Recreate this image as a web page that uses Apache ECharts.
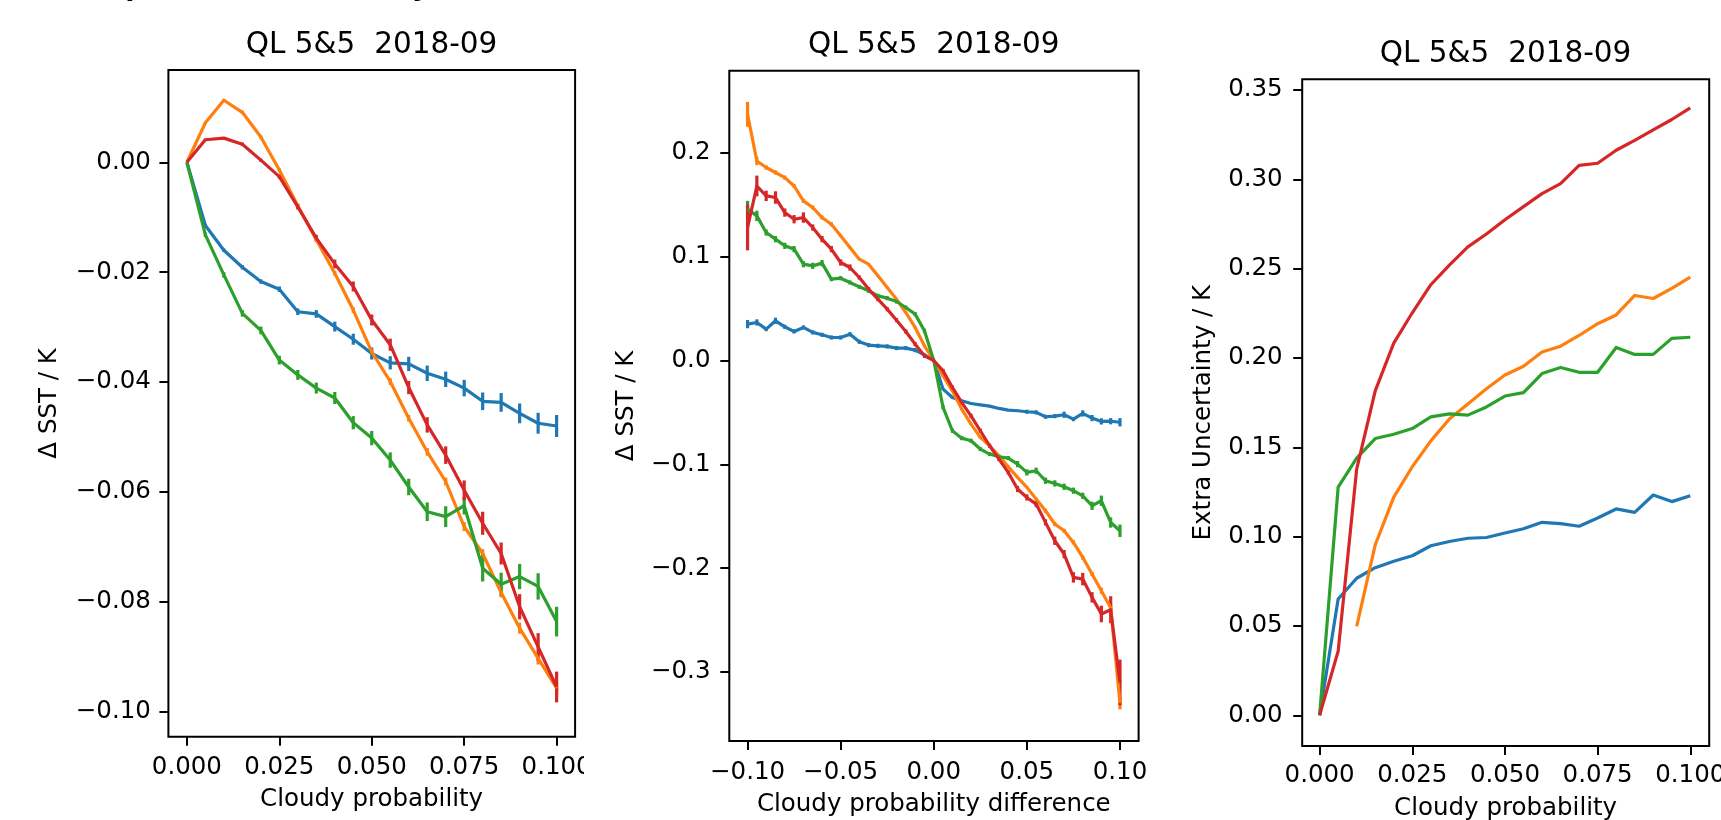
<!DOCTYPE html>
<html>
<head>
<meta charset="utf-8">
<script src="https://cdn.jsdelivr.net/npm/echarts@6/dist/echarts.min.js"></script>
<style>
html,body{margin:0;padding:0;background:#fff;}
#chart{width:1721px;height:820px;}
</style>
</head>
<body>
<div id="chart"></div>
<script>
// ---------------- data ----------------
const titleText = 'QL 5&5  2018-09';
const supTitle = 'SST dependence on cloudy';
const colors = ['#1f77b4', '#ff7f0e', '#2ca02c', '#d62728'];

// Panel 1: ΔSST vs cloudy probability
const p1X = [0, 0.005, 0.01, 0.015, 0.02, 0.025, 0.03, 0.035, 0.04, 0.045, 0.05, 0.055, 0.06, 0.065, 0.07, 0.075, 0.08, 0.085, 0.09, 0.095, 0.1];
const p1Blue = [0, -0.0115, -0.0160, -0.0191, -0.0217, -0.0231, -0.0272, -0.0276, -0.0299, -0.0322, -0.0348, -0.0365, -0.0367, -0.0384, -0.0395, -0.0411, -0.0435, -0.0437, -0.0457, -0.0475, -0.0480];
const p1BlueErr = [0, 0.0003, 0.0003, 0.0004, 0.0004, 0.0005, 0.0006, 0.0007, 0.0009, 0.0010, 0.0011, 0.0012, 0.0013, 0.0014, 0.0014, 0.0015, 0.0016, 0.0017, 0.0018, 0.0019, 0.0020];
const p1Orange = [0, 0.0072, 0.0113, 0.0091, 0.0046, -0.0014, -0.0079, -0.0141, -0.0202, -0.0269, -0.0345, -0.0399, -0.0466, -0.0527, -0.0581, -0.0663, -0.0712, -0.0783, -0.0848, -0.0903, -0.0957];
const p1OrangeErr = [0, 0.0002, 0.0002, 0.0003, 0.0003, 0.0003, 0.0004, 0.0004, 0.0004, 0.0005, 0.0005, 0.0006, 0.0006, 0.0007, 0.0007, 0.0008, 0.0008, 0.0009, 0.0010, 0.0011, 0.0012];
const p1Green = [0, -0.0132, -0.0205, -0.0275, -0.0306, -0.0360, -0.0387, -0.0411, -0.0429, -0.0474, -0.0502, -0.0542, -0.0591, -0.0636, -0.0645, -0.0625, -0.0739, -0.0768, -0.0754, -0.0772, -0.0836];
const p1GreenErr = [0, 0.0004, 0.0005, 0.0006, 0.0007, 0.0008, 0.0009, 0.0010, 0.0011, 0.0012, 0.0013, 0.0014, 0.0015, 0.0017, 0.0019, 0.0016, 0.0024, 0.0021, 0.0023, 0.0024, 0.0027];
const p1Red = [0, 0.0041, 0.0044, 0.0033, 0.0004, -0.0026, -0.0081, -0.0138, -0.0185, -0.0226, -0.0287, -0.0332, -0.0410, -0.0478, -0.0533, -0.0597, -0.0657, -0.0712, -0.0809, -0.0882, -0.0955];
const p1RedErr = [0, 0.0002, 0.0002, 0.0003, 0.0003, 0.0004, 0.0005, 0.0006, 0.0008, 0.0009, 0.0010, 0.0011, 0.0012, 0.0014, 0.0016, 0.0018, 0.0021, 0.0020, 0.0023, 0.0025, 0.0028];

// Panel 2: ΔSST vs cloudy probability difference
const p2X = [-0.1, -0.095, -0.09, -0.085, -0.08, -0.075, -0.07, -0.065, -0.06, -0.055, -0.05, -0.045, -0.04, -0.035, -0.03, -0.025, -0.02, -0.015, -0.01, -0.005, 0,
             0.005, 0.01, 0.015, 0.02, 0.025, 0.03, 0.035, 0.04, 0.045, 0.05, 0.055, 0.06, 0.065, 0.07, 0.075, 0.08, 0.085, 0.09, 0.095, 0.1];
const p2Blue = [0.0350, 0.0366, 0.0302, 0.0382, 0.0324, 0.0279, 0.0318, 0.0270, 0.0247, 0.0221, 0.0221, 0.0253, 0.0180, 0.0148, 0.0141, 0.0135, 0.0119, 0.0119, 0.0099, 0.0055, 0.0000,
                -0.0276, -0.0356, -0.0388, -0.0414, -0.0427, -0.0440, -0.0462, -0.0478, -0.0484, -0.0494, -0.0500, -0.0542, -0.0536, -0.0523, -0.0565, -0.0510, -0.0555, -0.0587, -0.0585, -0.0595];
const p2BlueErr = [0.004, 0.003, 0.002, 0.003, 0.002, 0.002, 0.002, 0.002, 0.002, 0.002, 0.002, 0.002, 0.002, 0.002, 0.002, 0.002, 0.002, 0.002, 0.002, 0.001, 0,
                   0.001, 0.001, 0.001, 0.001, 0.001, 0.001, 0.001, 0.001, 0.001, 0.002, 0.002, 0.002, 0.002, 0.003, 0.002, 0.003, 0.003, 0.003, 0.003, 0.004];
const p2Orange = [0.2370, 0.1920, 0.1858, 0.1810, 0.1761, 0.1680, 0.1537, 0.1473, 0.1376, 0.1312, 0.1200, 0.1088, 0.0975, 0.0927, 0.0815, 0.0703, 0.0590, 0.0462, 0.0318, 0.0141, 0.0000,
                  -0.0148, -0.0292, -0.0468, -0.0613, -0.0741, -0.0821, -0.0918, -0.1023, -0.1126, -0.1222, -0.1335, -0.1447, -0.1575, -0.1640, -0.1752, -0.1896, -0.2056, -0.2217, -0.2380, -0.3300];
const p2OrangeErr = [0.012, 0.004, 0.002, 0.002, 0.002, 0.002, 0.002, 0.002, 0.002, 0.002, 0.001, 0.001, 0.001, 0.001, 0.001, 0.001, 0.001, 0.001, 0.001, 0.001, 0,
                     0.001, 0.001, 0.001, 0.001, 0.001, 0.001, 0.001, 0.001, 0.001, 0.001, 0.001, 0.002, 0.002, 0.002, 0.002, 0.002, 0.002, 0.003, 0.004, 0.006];
const p2Green = [0.1457, 0.1392, 0.1232, 0.1168, 0.1104, 0.1072, 0.0927, 0.0911, 0.0937, 0.0783, 0.0792, 0.0751, 0.0709, 0.0671, 0.0622, 0.0600, 0.0568, 0.0510, 0.0446, 0.0286, 0.0000,
                 -0.0452, -0.0677, -0.0748, -0.0773, -0.0853, -0.0901, -0.0927, -0.0940, -0.0998, -0.1078, -0.1062, -0.1158, -0.1184, -0.1216, -0.1254, -0.1303, -0.1399, -0.1351, -0.1560, -0.1640];
const p2GreenErr = [0.008, 0.005, 0.003, 0.003, 0.003, 0.003, 0.003, 0.003, 0.003, 0.002, 0.002, 0.002, 0.002, 0.002, 0.002, 0.002, 0.002, 0.002, 0.002, 0.002, 0,
                    0.002, 0.002, 0.002, 0.002, 0.002, 0.002, 0.002, 0.002, 0.003, 0.003, 0.003, 0.003, 0.003, 0.003, 0.003, 0.003, 0.004, 0.005, 0.005, 0.006];
const p2Red = [0.1280, 0.1680, 0.1585, 0.1569, 0.1424, 0.1360, 0.1376, 0.1280, 0.1168, 0.1072, 0.0943, 0.0895, 0.0799, 0.0687, 0.0590, 0.0494, 0.0388, 0.0279, 0.0157, 0.0045, 0.0000,
               -0.0100, -0.0260, -0.0404, -0.0533, -0.0677, -0.0821, -0.0950, -0.1078, -0.1238, -0.1319, -0.1383, -0.1559, -0.1736, -0.1864, -0.2089, -0.2105, -0.2281, -0.2441, -0.2400, -0.3100];
const p2RedErr = [0.022, 0.010, 0.005, 0.006, 0.004, 0.004, 0.005, 0.003, 0.003, 0.003, 0.003, 0.003, 0.002, 0.002, 0.002, 0.002, 0.002, 0.002, 0.002, 0.002, 0,
                  0.002, 0.002, 0.002, 0.002, 0.002, 0.002, 0.002, 0.002, 0.003, 0.003, 0.003, 0.003, 0.004, 0.004, 0.005, 0.006, 0.005, 0.008, 0.013, 0.022];

// Panel 3: extra uncertainty vs cloudy probability
const p3X = [0, 0.005, 0.01, 0.015, 0.02, 0.025, 0.03, 0.035, 0.04, 0.045, 0.05, 0.055, 0.06, 0.065, 0.07, 0.075, 0.08, 0.085, 0.09, 0.095, 0.1];
const p3Blue = [0, 0.0651, 0.0767, 0.0826, 0.0862, 0.0893, 0.0949, 0.0973, 0.0991, 0.0995, 0.1020, 0.1044, 0.1080, 0.1073, 0.1058, 0.1104, 0.1155, 0.1136, 0.1233, 0.1196, 0.1229];
const p3Orange = [null, null, 0.0498, 0.0954, 0.1221, 0.1391, 0.1536, 0.1658, 0.1743, 0.1828, 0.1905, 0.1954, 0.2034, 0.2066, 0.2126, 0.2192, 0.2241, 0.2350, 0.2333, 0.2390, 0.2452];
const p3Green = [0, 0.1277, 0.1440, 0.1549, 0.1573, 0.1605, 0.1670, 0.1687, 0.1680, 0.1726, 0.1787, 0.1806, 0.1913, 0.1947, 0.1920, 0.1920, 0.2059, 0.2020, 0.2020, 0.2110, 0.2116];
const p3Red = [0, 0.0359, 0.1378, 0.1816, 0.2083, 0.2253, 0.2410, 0.2520, 0.2622, 0.2694, 0.2774, 0.2847, 0.2920, 0.2976, 0.3078, 0.3090, 0.3163, 0.3218, 0.3277, 0.3335, 0.3400];

// Ticks
const p1XTicks = [0, 0.025, 0.05, 0.075, 0.1];
const p1XLabels = ['0.000', '0.025', '0.050', '0.075', '0.100'];
const p1YTicks = [-0.1, -0.08, -0.06, -0.04, -0.02, 0];
const p1YLabels = ['\u22120.10', '\u22120.08', '\u22120.06', '\u22120.04', '\u22120.02', '0.00'];
const p2XTicks = [-0.1, -0.05, 0, 0.05, 0.1];
const p2XLabels = ['\u22120.10', '\u22120.05', '0.00', '0.05', '0.10'];
const p2YTicks = [-0.3, -0.2, -0.1, 0, 0.1, 0.2];
const p2YLabels = ['\u22120.3', '\u22120.2', '\u22120.1', '0.0', '0.1', '0.2'];
const p3XTicks = [0, 0.025, 0.05, 0.075, 0.1];
const p3XLabels = ['0.000', '0.025', '0.050', '0.075', '0.100'];
const p3YTicks = [0, 0.05, 0.1, 0.15, 0.2, 0.25, 0.3, 0.35];
const p3YLabels = ['0.00', '0.05', '0.10', '0.15', '0.20', '0.25', '0.30', '0.35'];

const p1XName = 'Cloudy probability';
const p2XName = 'Cloudy probability difference';
const p3XName = 'Cloudy probability';
const p1YName = '\u0394 SST / K';
const p2YName = '\u0394 SST / K';
const p3YName = 'Extra Uncertainty / K';

// ---------------- chart ----------------
const FF = '"DejaVu Sans", sans-serif';
const TICK_FS = 24.5, LABEL_FS = 24.5, TITLE_FS = 29.5;
const LW = 3.2;

const grids = [
  {left: 168.4, top: 70, width: 406.7, height: 666.7},
  {left: 729.3, top: 70.7, width: 409.3, height: 670.3},
  {left: 1302.2, top: 79.3, width: 407, height: 666.7}
];

function fmt(ticks, labels) {
  return function (v) {
    for (let i = 0; i < ticks.length; i++) if (Math.abs(ticks[i] - v) < 1e-9) return labels[i];
    return '';
  };
}
function axis(gi, min, max, ticks, labels, margin) {
  return {
    type: 'value', gridIndex: gi, min: min, max: max,
    axisLine: {show: false, onZero: false},
    splitLine: {show: false},
    axisTick: {show: true, inside: false, length: 9, customValues: ticks, lineStyle: {color: '#000', width: 2}},
    axisLabel: {show: true, customValues: ticks, formatter: fmt(ticks, labels), margin: margin,
                color: '#000', fontFamily: FF, fontSize: TICK_FS, hideOverlap: false}
  };
}

const xAxes = [
  axis(0, -0.005, 0.105, p1XTicks, p1XLabels, 18),
  axis(1, -0.1098, 0.11, p2XTicks, p2XLabels, 19),
  axis(2, -0.0047, 0.1051, p3XTicks, p3XLabels, 17)
];
const yAxes = [
  axis(0, -0.10455, 0.0168, p1YTicks, p1YLabels, 17.5),
  axis(1, -0.3664, 0.279, p2YTicks, p2YLabels, 18.8),
  axis(2, -0.0172, 0.356, p3YTicks, p3YLabels, 19.5)
];

function pairs(xs, ys) {
  const out = [];
  for (let i = 0; i < xs.length; i++) if (ys[i] !== null) out.push([xs[i], ys[i]]);
  return out;
}
function triples(xs, ys, es) {
  const out = [];
  for (let i = 0; i < xs.length; i++) out.push([xs[i], ys[i], es[i]]);
  return out;
}
function lineSeries(gi, xs, ys, color) {
  return {
    type: 'line', xAxisIndex: gi, yAxisIndex: gi, data: pairs(xs, ys),
    showSymbol: false, symbol: 'none', silent: true, animation: false,
    lineStyle: {color: color, width: LW, join: 'round', cap: 'butt'},
    itemStyle: {color: color}, z: 2
  };
}
function errSeries(gi, xs, ys, es, color) {
  return {
    type: 'custom', xAxisIndex: gi, yAxisIndex: gi, data: triples(xs, ys, es),
    silent: true, animation: false, z: 2,
    encode: {x: 0, y: 1},
    renderItem: function (params, api) {
      const x = api.value(0), y = api.value(1), e = api.value(2);
      const a = api.coord([x, y - e]);
      const b = api.coord([x, y + e]);
      return {type: 'line', shape: {x1: a[0], y1: a[1], x2: b[0], y2: b[1]},
              style: {stroke: color, lineWidth: LW, lineCap: 'butt'}};
    }
  };
}

const series = [
  lineSeries(0, p1X, p1Blue, colors[0]), errSeries(0, p1X, p1Blue, p1BlueErr, colors[0]),
  lineSeries(0, p1X, p1Orange, colors[1]), errSeries(0, p1X, p1Orange, p1OrangeErr, colors[1]),
  lineSeries(0, p1X, p1Green, colors[2]), errSeries(0, p1X, p1Green, p1GreenErr, colors[2]),
  lineSeries(0, p1X, p1Red, colors[3]), errSeries(0, p1X, p1Red, p1RedErr, colors[3]),

  lineSeries(1, p2X, p2Blue, colors[0]), errSeries(1, p2X, p2Blue, p2BlueErr, colors[0]),
  lineSeries(1, p2X, p2Orange, colors[1]), errSeries(1, p2X, p2Orange, p2OrangeErr, colors[1]),
  lineSeries(1, p2X, p2Green, colors[2]), errSeries(1, p2X, p2Green, p2GreenErr, colors[2]),
  lineSeries(1, p2X, p2Red, colors[3]), errSeries(1, p2X, p2Red, p2RedErr, colors[3]),

  lineSeries(2, p3X, p3Blue, colors[0]),
  lineSeries(2, p3X, p3Orange, colors[1]),
  lineSeries(2, p3X, p3Green, colors[2]),
  lineSeries(2, p3X, p3Red, colors[3])
];

function txt(s, x, y, fs, rot, weight, align) {
  return {
    type: 'text', x: x, y: y, rotation: rot || 0, z: 50, silent: true,
    style: {text: s, font: (weight || 'normal') + ' ' + fs + 'px ' + FF, fill: '#000',
            align: align || 'center', verticalAlign: 'middle',
            textAlign: align || 'center', textVerticalAlign: 'middle'}
  };
}

const graphics = [
  // clip of the first panel's last x tick label
  {type: 'rect', shape: {x: 584, y: 744, width: 22, height: 46}, style: {fill: '#fff'}, z: 40, silent: true},
  txt(supTitle, 22, -12, 27, 0, 'bold', 'left'),
  txt(titleText, 371.6, 45.3, TITLE_FS),
  txt(titleText, 933.8, 45.3, TITLE_FS),
  txt(titleText, 1505.6, 54.3, TITLE_FS),
  txt(p1XName, 371.6, 799.7, LABEL_FS),
  txt(p2XName, 933.8, 804.7, LABEL_FS),
  txt(p3XName, 1505.6, 808.4, LABEL_FS),
  txt(p1YName, 49.6, 403.4, LABEL_FS, Math.PI / 2),
  txt(p2YName, 626.2, 405.9, LABEL_FS, Math.PI / 2),
  txt(p3YName, 1203.2, 412.7, LABEL_FS, Math.PI / 2)
];

const chart = echarts.init(document.getElementById('chart'), null, {renderer: 'canvas'});
chart.setOption({
  backgroundColor: '#ffffff',
  animation: false,
  grid: grids.map(g => Object.assign({show: true, borderColor: '#000', borderWidth: 2,
    backgroundColor: 'rgba(0,0,0,0)', containLabel: false, outerBoundsMode: 'none'}, g)),
  xAxis: xAxes,
  yAxis: yAxes,
  series: series,
  graphic: {elements: graphics}
});
</script>
</body>
</html>
